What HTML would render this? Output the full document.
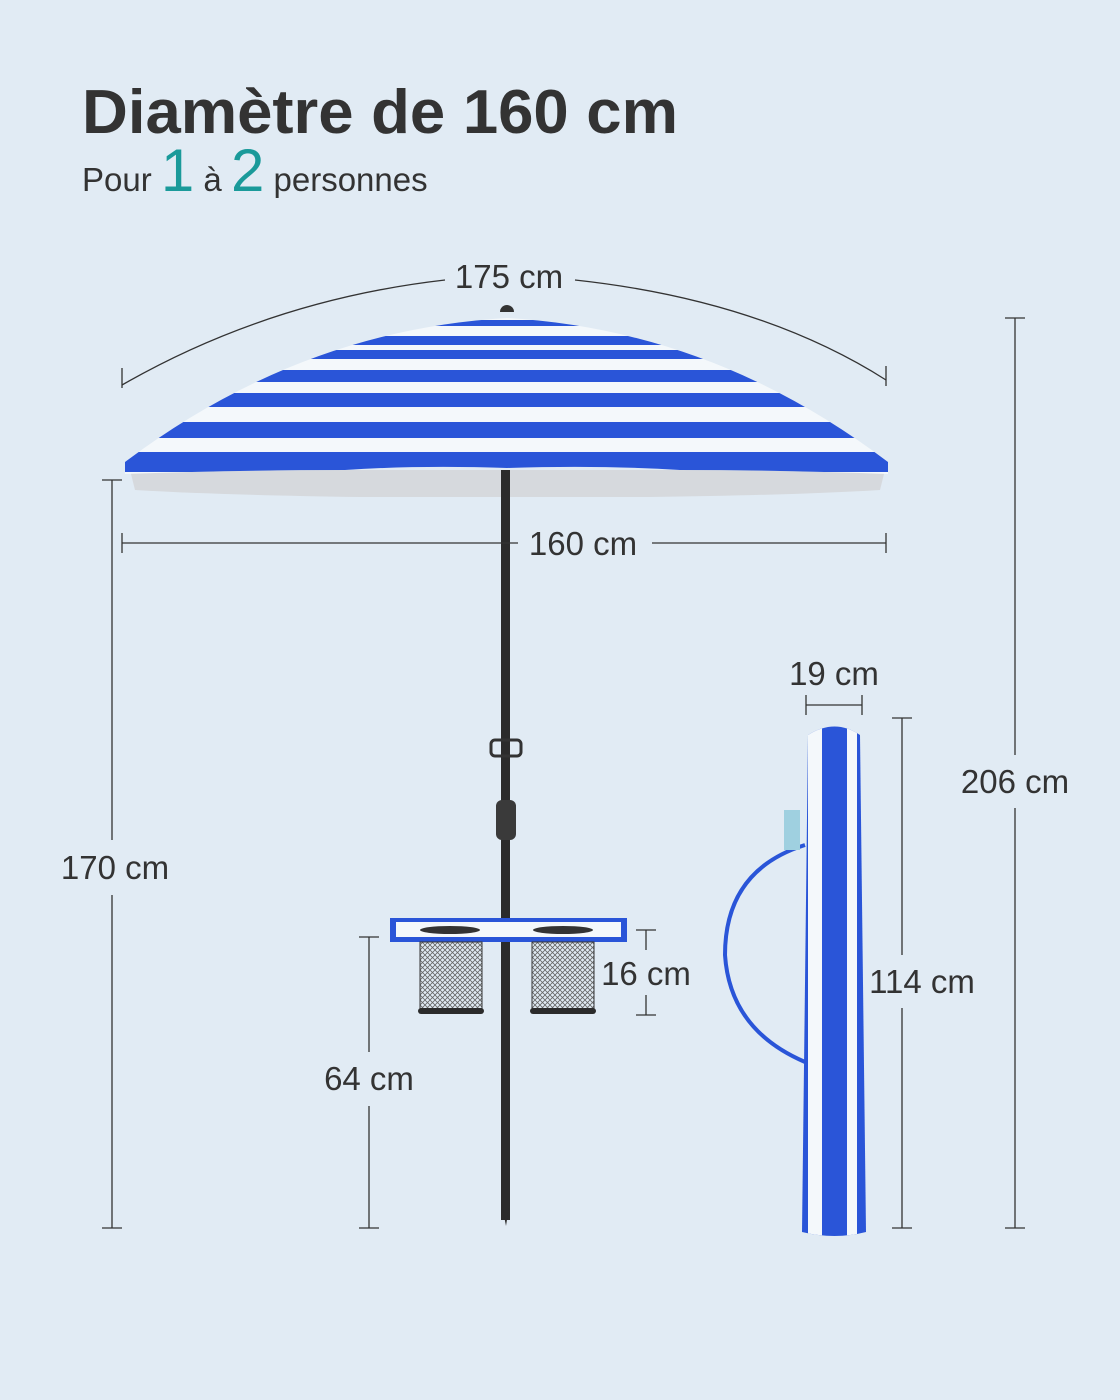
<!DOCTYPE html>
<html><head><meta charset="utf-8"><style>
html,body{margin:0;padding:0;background:#e1ebf4;}
svg{display:block}
text{font-family:"Liberation Sans",sans-serif;fill:#333}
</style></head><body>
<svg width="1120" height="1400" viewBox="0 0 1120 1400" xmlns="http://www.w3.org/2000/svg">
<rect width="1120" height="1400" fill="#e1ebf4"/>
<text x="82" y="133" font-size="62" font-weight="bold" fill="#333" textLength="596" lengthAdjust="spacingAndGlyphs">Diamètre de 160 cm</text>
<text x="82" y="191" font-size="33">Pour <tspan font-size="60" fill="#1a9a9a">1</tspan> à <tspan font-size="60" fill="#1a9a9a">2</tspan> personnes</text>

<defs>
<clipPath id="can"><path d="M125,462 Q300,330 507,318 Q714,330 888,462 L888,474 Q780,470 680,470 Q600,465 507,468 Q420,465 345,470 Q240,470 125,474 Z"/></clipPath>
<clipPath id="bag"><path d="M808,735 Q835,718 860,735 L866,1232 Q835,1240 802,1232 Z"/></clipPath>
<pattern id="mesh" width="5" height="5" patternUnits="userSpaceOnUse"><path d="M0,0L5,5M5,0L0,5" stroke="#666" stroke-width="0.8"/></pattern>
</defs>

<path d="M130,470 L885,470 L880,490 Q800,495 650,497 L360,497 Q220,495 135,490 Z" fill="#d6d9dd"/>
<g clip-path="url(#can)">
<rect x="100" y="300" width="820" height="200" fill="#f4f8fb"/>
<rect x="100" y="320" width="820" height="6" fill="#2a55d8"/>
<rect x="100" y="336" width="820" height="9" fill="#2a55d8"/>
<rect x="100" y="350" width="820" height="9" fill="#2a55d8"/>
<rect x="100" y="370" width="820" height="12" fill="#2a55d8"/>
<rect x="100" y="393" width="820" height="14" fill="#2a55d8"/>
<rect x="100" y="422" width="820" height="16" fill="#2a55d8"/>
<rect x="100" y="452" width="820" height="20" fill="#2a55d8"/>
</g>
<path d="M500,312 a7,7 0 0 1 14,0 z" fill="#333"/>

<rect x="501" y="470" width="9" height="750" fill="#2b2b2b"/>
<path d="M501,1200 L510,1200 L506,1226 Z" fill="#2b2b2b"/>
<rect x="491" y="740" width="30" height="16" rx="4" fill="none" stroke="#333" stroke-width="3"/>
<rect x="496" y="800" width="20" height="40" rx="6" fill="#3a3a3a"/>

<rect x="390" y="918" width="237" height="24" fill="#2a55d8"/>
<rect x="396" y="922" width="225" height="15" fill="#f4f8fb"/>
<ellipse cx="450" cy="930" rx="30" ry="4" fill="#333"/>
<ellipse cx="563" cy="930" rx="30" ry="4" fill="#333"/>
<rect x="420" y="942" width="62" height="70" fill="url(#mesh)" stroke="#333" stroke-width="1"/>
<rect x="532" y="942" width="62" height="70" fill="url(#mesh)" stroke="#333" stroke-width="1"/>
<rect x="418" y="1008" width="66" height="6" rx="3" fill="#2b2b2b"/>
<rect x="530" y="1008" width="66" height="6" rx="3" fill="#2b2b2b"/>

<path d="M805,845 Q725,870 725,955 Q730,1030 805,1062" fill="none" stroke="#2a55d8" stroke-width="4"/>
<g clip-path="url(#bag)">
<rect x="795" y="700" width="80" height="550" fill="#2a55d8"/>
<rect x="808" y="700" width="14" height="550" fill="#f4f8fb"/>
<rect x="847" y="700" width="10" height="550" fill="#f4f8fb"/>
</g>
<rect x="784" y="810" width="16" height="40" fill="#9fd0e0"/>

<g stroke="#333" stroke-width="1.3" fill="none">
<path d="M122,385 Q270,300 445,280"/><path d="M575,280 Q760,300 886,380"/>
<line x1="122" y1="368" x2="122" y2="388"/><line x1="886" y1="366" x2="886" y2="386"/>
<line x1="122" y1="543" x2="518" y2="543"/><line x1="652" y1="543" x2="886" y2="543"/>
<line x1="122" y1="533" x2="122" y2="553"/><line x1="886" y1="533" x2="886" y2="553"/>
<line x1="112" y1="480" x2="112" y2="840"/><line x1="112" y1="895" x2="112" y2="1228"/>
<line x1="102" y1="480" x2="122" y2="480"/><line x1="102" y1="1228" x2="122" y2="1228"/>
<line x1="1015" y1="318" x2="1015" y2="755"/><line x1="1015" y1="808" x2="1015" y2="1228"/>
<line x1="1005" y1="318" x2="1025" y2="318"/><line x1="1005" y1="1228" x2="1025" y2="1228"/>
<line x1="369" y1="937" x2="369" y2="1052"/><line x1="369" y1="1106" x2="369" y2="1228"/>
<line x1="359" y1="937" x2="379" y2="937"/><line x1="359" y1="1228" x2="379" y2="1228"/>
<line x1="646" y1="930" x2="646" y2="950"/><line x1="646" y1="995" x2="646" y2="1015"/>
<line x1="636" y1="930" x2="656" y2="930"/><line x1="636" y1="1015" x2="656" y2="1015"/>
<line x1="806" y1="705" x2="862" y2="705"/><line x1="806" y1="695" x2="806" y2="715"/><line x1="862" y1="695" x2="862" y2="715"/>
<line x1="902" y1="718" x2="902" y2="955"/><line x1="902" y1="1008" x2="902" y2="1228"/>
<line x1="892" y1="718" x2="912" y2="718"/><line x1="892" y1="1228" x2="912" y2="1228"/>
</g>
<g font-size="33" text-anchor="middle">
<text x="509" y="288">175 cm</text>
<text x="583" y="555">160 cm</text>
<text x="115" y="879">170 cm</text>
<text x="1015" y="793">206 cm</text>
<text x="369" y="1090">64 cm</text>
<text x="646" y="985">16 cm</text>
<text x="834" y="685">19 cm</text>
<text x="922" y="993">114 cm</text>
</g>
</svg>
</body></html>
